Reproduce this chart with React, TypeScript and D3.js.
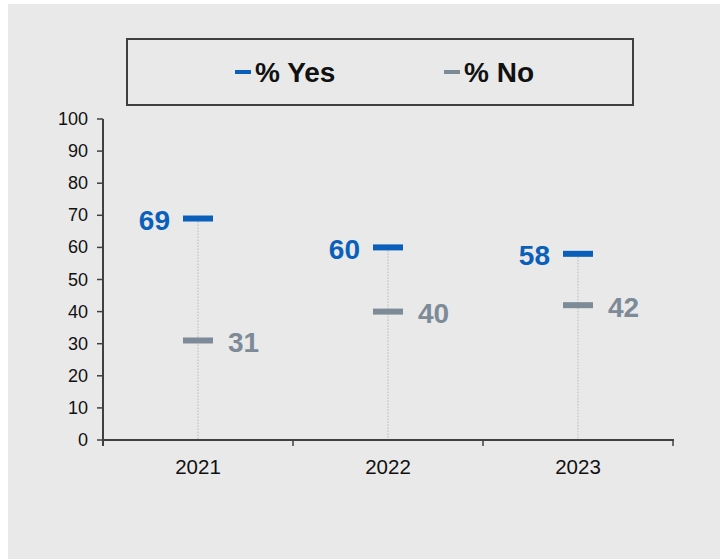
import React from "react";
import * as d3 from "d3";

const years = ["2021", "2022", "2023"];
const yesValues = [69, 60, 58];
const noValues = [31, 40, 42];
const yTicks = [0, 10, 20, 30, 40, 50, 60, 70, 80, 90, 100];
const seriesNames = ["% Yes", "% No"];

const W = 720;
const H = 559;
const BLUE = "#0a5fba";
const GRAY = "#7d8a97";
const FONT = "'Liberation Sans', Arial, sans-serif";

export default function App() {
  const x = d3.scaleBand().domain(years).range([103, 673]).padding(0);
  const y = d3.scaleLinear().domain([0, 100]).range([440, 119]);
  const cx = (d: string) => (x(d) as number) + x.bandwidth() / 2;
  const markW = 30;
  const markH = 6;

  return (
    <svg
      width={W}
      height={H}
      style={{ position: "absolute", left: 0, top: 0, display: "block" }}
    >
      <rect x={8} y={4} width={W - 8} height={H - 4} fill="#e9e9e9" />

      {/* Legend */}
      <rect x={127} y={39} width={506} height={66} fill="none" stroke="#3f3f3f" strokeWidth={2} />
      <line x1={235} x2={251} y1={72} y2={72} stroke={BLUE} strokeWidth={4} />
      <text x={255} y={72} dominantBaseline="central" fontFamily={FONT} fontWeight="bold" fontSize={28} fill="#111">
        {seriesNames[0]}
      </text>
      <line x1={444} x2={460} y1={72} y2={72} stroke={GRAY} strokeWidth={4} />
      <text x={464} y={72} dominantBaseline="central" fontFamily={FONT} fontWeight="bold" fontSize={28} fill="#111">
        {seriesNames[1]}
      </text>

      {/* Dotted drop lines */}
      {years.map((yr, i) => (
        <line
          key={"drop" + yr}
          x1={cx(yr)}
          x2={cx(yr)}
          y1={y(yesValues[i])}
          y2={y(0)}
          stroke="#b8b8b8"
          strokeWidth={1}
          strokeDasharray="1.5,1.5"
        />
      ))}

      {/* Y axis */}
      <line x1={103} x2={103} y1={y(100)} y2={y(0) + 6} stroke="#404040" strokeWidth={2} />
      {yTicks.map((t) => (
        <g key={"yt" + t}>
          <line x1={97} x2={103} y1={y(t)} y2={y(t)} stroke="#404040" strokeWidth={1.5} />
          <text
            x={88}
            y={y(t)}
            textAnchor="end"
            dominantBaseline="central"
            fontFamily={FONT}
            fontSize={18}
            fill="#111"
          >
            {t}
          </text>
        </g>
      ))}

      {/* X axis */}
      <line x1={102} x2={674} y1={y(0)} y2={y(0)} stroke="#404040" strokeWidth={2} />
      {[...years.map((d) => x(d) as number), 673].map((v, i) => (
        <line key={"xt" + i} x1={v} x2={v} y1={y(0)} y2={y(0) + 6} stroke="#404040" strokeWidth={1.5} />
      ))}
      {years.map((yr) => (
        <text
          key={"xl" + yr}
          x={cx(yr)}
          y={466}
          textAnchor="middle"
          dominantBaseline="central"
          fontFamily={FONT}
          fontSize={20.5}
          fill="#111"
        >
          {yr}
        </text>
      ))}

      {/* Markers */}
      {years.map((yr, i) => (
        <g key={"m" + yr}>
          <rect x={cx(yr) - markW / 2} y={y(yesValues[i]) - markH / 2} width={markW} height={markH} fill={BLUE} />
          <rect x={cx(yr) - markW / 2} y={y(noValues[i]) - markH / 2} width={markW} height={markH} fill={GRAY} />
          <text
            x={cx(yr) - markW / 2 - 13}
            y={y(yesValues[i]) + 2}
            textAnchor="end"
            dominantBaseline="central"
            fontFamily={FONT}
            fontWeight="bold"
            fontSize={28}
            fill={BLUE}
          >
            {yesValues[i]}
          </text>
          <text
            x={cx(yr) + markW / 2 + 15}
            y={y(noValues[i]) + 2}
            textAnchor="start"
            dominantBaseline="central"
            fontFamily={FONT}
            fontWeight="bold"
            fontSize={28}
            fill={GRAY}
          >
            {noValues[i]}
          </text>
        </g>
      ))}
    </svg>
  );
}
